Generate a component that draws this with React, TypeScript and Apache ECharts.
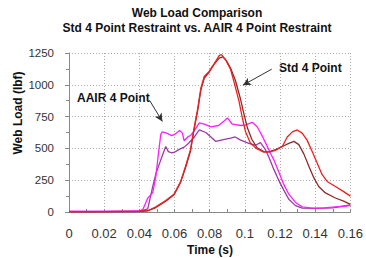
import React, { useEffect, useRef } from "react";
import * as echarts from "echarts";

// Std 4 Point Restraint, run 1 (red)
const stdAT = [0, 0.01, 0.02, 0.03, 0.04, 0.045, 0.0494, 0.055, 0.0597, 0.0635, 0.0663, 0.0691, 0.071, 0.0731, 0.075, 0.0769, 0.0797, 0.0825, 0.0854, 0.0867, 0.0891, 0.0919, 0.0938, 0.0966, 0.0985, 0.1004, 0.1032, 0.107, 0.1108, 0.1137, 0.1175, 0.1213, 0.1241, 0.127, 0.1298, 0.1326, 0.1354, 0.1383, 0.1411, 0.1439, 0.1468, 0.1515, 0.1562, 0.16];
const stdAV = [2, 3, 2, 4, 5, 12, 40, 90, 140, 240, 360, 490, 650, 805, 975, 1065, 1105, 1165, 1230, 1238, 1195, 1120, 1025, 875, 745, 630, 540, 495, 470, 472, 485, 515, 590, 630, 645, 620, 565, 475, 385, 295, 240, 200, 160, 125];

// Std 4 Point Restraint, run 2 (dark red)
const stdBT = [0, 0.01, 0.02, 0.03, 0.04, 0.045, 0.0494, 0.055, 0.0597, 0.0635, 0.0663, 0.0691, 0.071, 0.0731, 0.075, 0.0769, 0.0797, 0.0825, 0.0854, 0.0875, 0.0895, 0.0919, 0.0945, 0.0975, 0.0995, 0.1015, 0.104, 0.107, 0.1108, 0.1137, 0.1175, 0.1213, 0.125, 0.1279, 0.1307, 0.1336, 0.1364, 0.1392, 0.142, 0.1458, 0.1515, 0.1562, 0.16];
const stdBV = [3, 2, 3, 3, 4, 10, 35, 85, 135, 235, 350, 480, 640, 790, 960, 1050, 1100, 1160, 1210, 1220, 1190, 1130, 1040, 890, 770, 660, 570, 505, 475, 472, 490, 515, 540, 555, 530, 455, 360, 270, 200, 150, 110, 85, 60];

// AAIR 4 Point Restraint, run 1 (magenta)
const aairAT = [0, 0.01, 0.02, 0.03, 0.04, 0.042, 0.0448, 0.0476, 0.0494, 0.0509, 0.0522, 0.053, 0.0555, 0.0584, 0.06, 0.0629, 0.0645, 0.0655, 0.0675, 0.069, 0.0713, 0.0741, 0.0769, 0.0807, 0.085, 0.0882, 0.0901, 0.0929, 0.0976, 0.1004, 0.1042, 0.107, 0.1098, 0.1126, 0.115, 0.1165, 0.1194, 0.1222, 0.125, 0.1288, 0.1326, 0.1383, 0.145, 0.1515, 0.16];
const aairAV = [6, 5, 7, 6, 8, 20, 110, 150, 280, 465, 610, 630, 620, 600, 610, 640, 620, 560, 590, 600, 640, 700, 690, 670, 680, 715, 740, 690, 680, 685, 705, 670, 600, 520, 450, 410, 310, 215, 140, 75, 40, 30, 32, 40, 50];

// AAIR 4 Point Restraint, run 2 (purple)
const aairBT = [0, 0.01, 0.02, 0.03, 0.04, 0.0448, 0.0476, 0.0494, 0.0522, 0.055, 0.0565, 0.0584, 0.06, 0.0624, 0.0655, 0.068, 0.0713, 0.0741, 0.0778, 0.0807, 0.0835, 0.0865, 0.0919, 0.0945, 0.0976, 0.1023, 0.106, 0.1089, 0.1117, 0.1137, 0.1165, 0.1194, 0.1222, 0.125, 0.1288, 0.1326, 0.14, 0.15, 0.16];
const aairBV = [3, 4, 3, 4, 5, 25, 200, 300, 410, 515, 475, 465, 470, 490, 510, 540, 590, 645, 625, 590, 555, 565, 580, 590, 565, 540, 525, 545, 490, 430, 335, 245, 170, 100, 50, 30, 28, 32, 55];

const xTicks = [0, 0.02, 0.04, 0.06, 0.08, 0.1, 0.12, 0.14, 0.16];
const yTicks = [0, 250, 500, 750, 1000, 1250];

const zip = (t: number[], v: number[]) => t.map((x, i) => [x, v[i]]);

const textStyle = (text: string, align: string) => ({
  text,
  font: "bold 12px 'Liberation Sans', Arial, sans-serif",
  fill: "#111",
  align,
  verticalAlign: "middle",
  textAlign: align,
  textVerticalAlign: "middle",
});

export default function App() {
  const ref = useRef<HTMLDivElement>(null);
  useEffect(() => {
    if (!ref.current) return;
    const chart = echarts.init(ref.current, undefined, { renderer: "svg" });
    const lineSeries = (name: string, data: number[][], color: string, extra: any = {}) => ({
      name,
      type: "line",
      data,
      showSymbol: false,
      symbol: "none",
      lineStyle: { color, width: 1.3 },
      itemStyle: { color },
      z: 3,
      ...extra,
    });
    chart.setOption({
      animation: false,
      grid: { left: 69, right: 14, top: 53, bottom: 46 },
      xAxis: {
        type: "value",
        min: 0,
        max: 0.16,
        interval: 0.02,
        axisLine: { show: true, lineStyle: { color: "#888" } },
        axisTick: { show: true, inside: true, length: 3, lineStyle: { color: "#888" } },
        minorTick: { show: true, splitNumber: 2, length: 3, lineStyle: { color: "#888" } },
        axisLabel: {
          color: "#333",
          fontSize: 13,
          fontFamily: "Liberation Sans, Arial, sans-serif",
          margin: 15,
          formatter: (v: number) => (xTicks.includes(Math.round(v * 100) / 100) ? String(Math.round(v * 100) / 100) : ""),
        },
        splitLine: { show: true, lineStyle: { color: "#aaa", type: [1, 2], width: 1 } },
      },
      yAxis: {
        type: "value",
        min: 0,
        max: 1250,
        interval: 250,
        axisLine: { show: true, lineStyle: { color: "#888" } },
        axisTick: { show: true, length: 4, lineStyle: { color: "#888" } },
        minorTick: { show: true, splitNumber: 2, length: 3, lineStyle: { color: "#888" } },
        axisLabel: {
          color: "#333",
          fontSize: 11.5,
          fontFamily: "Liberation Sans, Arial, sans-serif",
          margin: 15,
          formatter: (v: number) => (yTicks.includes(v) ? String(v) : ""),
        },
        splitLine: { show: true, lineStyle: { color: "#aaa", type: [1, 2], width: 1 } },
      },
      series: [
        lineSeries("AAIR 4 Point B", zip(aairBT, aairBV), "#9a3aa6"),
        lineSeries("AAIR 4 Point A", zip(aairAT, aairAV), "#ff1eff", {
          markLine: {
            silent: true,
            symbol: ["none", "arrow"],
            symbolSize: [6, 8],
            label: { show: false },
            lineStyle: { color: "#333", width: 1, type: "solid", curveness: -0.15 },
            data: [[{ coord: [0.0458, 878] }, { coord: [0.0531, 712] }]],
          },
        }),
        lineSeries("Std 4 Point B", zip(stdBT, stdBV), "#8c2a2a"),
        lineSeries("Std 4 Point A", zip(stdAT, stdAV), "#ee2020", {
          markLine: {
            silent: true,
            symbol: ["none", "arrow"],
            symbolSize: [6, 8],
            label: { show: false },
            lineStyle: { color: "#333", width: 1, type: "solid" },
            data: [[{ coord: [0.1153, 1123] }, { coord: [0.0989, 997] }]],
          },
        }),
      ],
      graphic: [
        { type: "text", x: 197, y: 13, style: textStyle("Web Load Comparison", "center") },
        { type: "text", x: 197, y: 28, style: textStyle("Std 4 Point Restraint vs. AAIR 4 Point Restraint", "center") },
        { type: "text", x: 18, y: 113, rotation: Math.PI / 2, style: textStyle("Web Load (lbf)", "center") },
        { type: "text", x: 210, y: 250, style: textStyle("Time (s)", "center") },
        { type: "text", x: 77, y: 98, style: textStyle("AAIR 4 Point", "left") },
        { type: "text", x: 279, y: 68, style: textStyle("Std 4 Point", "left") },
      ],
    });
    return () => chart.dispose();
  }, []);
  return <div ref={ref} style={{ width: 366, height: 258, position: "absolute", left: 0, top: 0 }} />;
}
